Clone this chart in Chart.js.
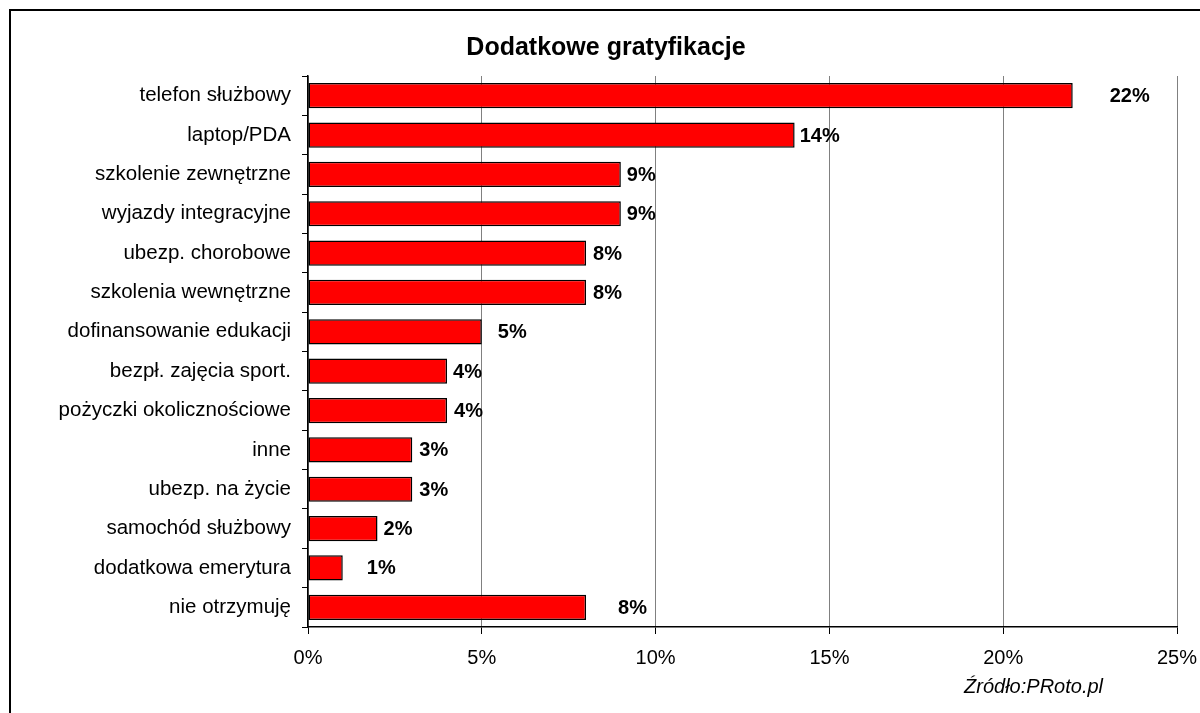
<!DOCTYPE html>
<html lang="pl">
<head>
    <meta charset="UTF-8">
    <title>Dodatkowe gratyfikacje</title>
    <script src="https://cdn.jsdelivr.net/npm/chart.js@4"></script>
    <style>
        body { margin: 0; background: #fff; }
        #wrap { position: relative; width: 1200px; height: 713px; }
    </style>
</head>
<body>
<div id="wrap"><canvas id="myChart" width="1200" height="713"></canvas></div>
<script>
    // dane
    const categories = [
        'telefon służbowy', 'laptop/PDA', 'szkolenie zewnętrzne', 'wyjazdy integracyjne',
        'ubezp. chorobowe', 'szkolenia wewnętrzne', 'dofinansowanie edukacji',
        'bezpł. zajęcia sport.', 'pożyczki okolicznościowe', 'inne', 'ubezp. na życie',
        'samochód służbowy', 'dodatkowa emerytura', 'nie otrzymuję'
    ];
    const values = [22, 14, 9, 9, 8, 8, 5, 4, 4, 3, 3, 2, 1, 8];
    const xTicks = [0, 5, 10, 15, 20, 25];
    const chartTitle = 'Dodatkowe gratyfikacje';
    const sourceText = 'Źródło:PRoto.pl';

    // przesunięcia etykiet jak w oryginale (px od końca słupka)
    const labelNudge = [36, 4, 5, 5, 6, 6, 15, 5, 6, 6, 6, 5, 23, 31];

    const FONT = "'Liberation Sans', Arial, sans-serif";

    const extras = {
        id: 'extras',
        afterDatasetsDraw(chart) {
            const ctx = chart.ctx;
            const meta = chart.getDatasetMeta(0);
            ctx.save();
            ctx.fillStyle = '#000';
            ctx.font = 'bold 20px ' + FONT;
            ctx.textAlign = 'left';
            ctx.textBaseline = 'middle';
            meta.data.forEach((bar, i) => {
                ctx.fillText(values[i] + '%', bar.x + 1 + labelNudge[i], bar.y + 1);
            });
            ctx.restore();
        },
        afterDraw(chart) {
            const ctx = chart.ctx;
            ctx.save();
            // tytuł
            ctx.fillStyle = '#000';
            ctx.font = 'bold 25px ' + FONT;
            ctx.textAlign = 'center';
            ctx.textBaseline = 'middle';
            ctx.fillText(chartTitle, 606, 48);
            // źródło
            ctx.font = 'italic 20px ' + FONT;
            ctx.textAlign = 'right';
            ctx.fillText(sourceText, 1103, 687);
            // ramka
            ctx.strokeStyle = '#000';
            ctx.lineWidth = 2;
            ctx.beginPath();
            ctx.moveTo(10, 713);
            ctx.lineTo(10, 10);
            ctx.lineTo(1200, 10);
            ctx.stroke();
            ctx.restore();
        }
    };

    const ctx = document.getElementById('myChart').getContext('2d');
    new Chart(ctx, {
        type: 'bar',
        data: {
            labels: categories,
            datasets: [{
                data: values,
                backgroundColor: '#ff0000',
                borderColor: '#000',
                borderWidth: 1.5,
                borderSkipped: false,
                barPercentage: 0.64,
                categoryPercentage: 1
            }]
        },
        options: {
            indexAxis: 'y',
            responsive: false,
            animation: false,
            devicePixelRatio: 1,
            layout: { padding: { left: 0, top: 76, right: 23, bottom: 0 } },
            plugins: {
                legend: { display: false },
                tooltip: { enabled: false }
            },
            scales: {
                x: {
                    min: 0,
                    max: 25,
                    afterFit: s => {
                        s.height = 86;
                        s.paddingLeft = 0;
                        s.paddingRight = 0;
                    },
                    afterBuildTicks: s => { s.ticks = xTicks.map(v => ({ value: v })); },
                    grid: {
                        color: '#808080',
                        lineWidth: 1,
                        tickColor: '#000',
                        tickLength: 7
                    },
                    border: { color: '#000', width: 1.5 },
                    ticks: {
                        color: '#000',
                        font: { family: FONT, size: 20 },
                        padding: 12,
                        callback: v => v + '%'
                    }
                },
                y: {
                    afterFit: s => {
                        s.width = 308;
                        s.paddingTop = 0;
                        s.paddingBottom = 0;
                    },
                    grid: {
                        drawOnChartArea: false,
                        tickColor: '#000',
                        tickLength: 6
                    },
                    border: { color: '#000', width: 1.5 },
                    ticks: {
                        color: '#000',
                        font: { family: FONT, size: 20.5 },
                        padding: 11
                    }
                }
            }
        },
        plugins: [extras]
    });
</script>
</body>
</html>
